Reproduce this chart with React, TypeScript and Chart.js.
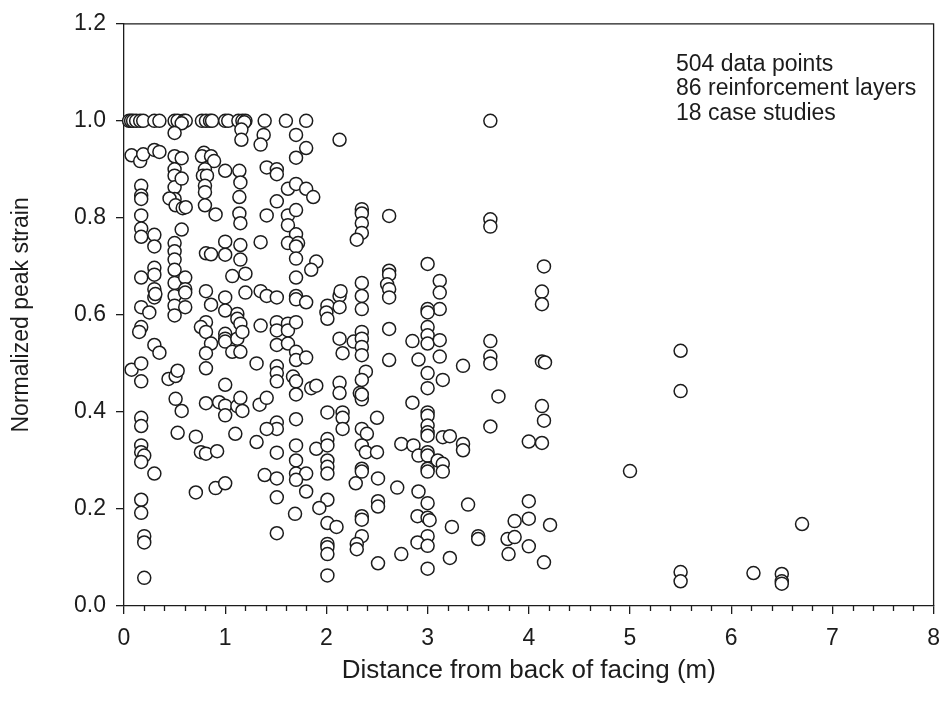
import React, { useEffect, useRef } from 'react';
import { Chart, registerables } from 'chart.js';

Chart.register(...registerables);

const FONT = '"Liberation Sans", Arial, Helvetica, sans-serif';
const INK = '#1c1c1c';

const xAxisTitle = 'Distance from back of facing (m)';
const yAxisTitle = 'Normalized peak strain';
const noteLines = ['504 data points', '86 reinforcement layers', '18 case studies'];

const xTickValues = [0, 1, 2, 3, 4, 5, 6, 7, 8];
const xTickLabels = ['0', '1', '2', '3', '4', '5', '6', '7', '8'];
const xMinorTickValues = [
  0.2, 0.4, 0.6, 0.8, 1.2, 1.4, 1.6, 1.8, 2.2, 2.4, 2.6, 2.8, 3.2, 3.4, 3.6, 3.8,
  4.2, 4.4, 4.6, 4.8, 5.2, 5.4, 5.6, 5.8, 6.2, 6.4, 6.6, 6.8, 7.2, 7.4, 7.6, 7.8,
];
const yTickValues = [0, 0.2, 0.4, 0.6, 0.8, 1.0, 1.2];
const yTickLabels = ['0.0', '0.2', '0.4', '0.6', '0.8', '1.0', '1.2'];

type Pt = [number, number];

// points capped at normalized strain = 1.0
const peakRow: Pt[] = [
  [0.05, 1.0], [0.07, 1.0], [0.09, 1.0], [0.12, 1.0], [0.16, 1.0], [0.19, 1.0], [0.30, 1.0],
  [0.35, 1.0], [0.50, 1.0], [0.53, 1.0], [0.59, 1.0], [0.61, 1.0], [0.57, 0.995], [0.77, 1.0],
  [0.81, 1.0], [0.85, 1.0], [0.87, 1.0], [1.00, 1.0], [1.03, 1.0], [1.13, 1.0], [1.17, 1.0],
  [1.20, 1.0], [1.19, 0.997], [1.39, 1.0], [1.60, 1.0], [1.80, 1.0], [3.62, 1.0],
];

// 0.72 - 1.0
const upperBand: Pt[] = [
  [0.50, 0.975], [1.16, 0.982], [1.16, 0.961], [1.38, 0.971], [1.35, 0.951], [1.70, 0.971],
  [1.80, 0.944], [1.70, 0.924], [2.13, 0.961], [0.075, 0.929], [0.16, 0.917], [0.19, 0.931],
  [0.30, 0.94], [0.35, 0.936], [0.50, 0.927], [0.57, 0.923], [0.50, 0.90], [0.50, 0.887],
  [0.50, 0.863], [0.50, 0.839], [0.57, 0.881], [0.45, 0.84], [0.51, 0.826], [0.58, 0.82],
  [0.61, 0.822], [0.79, 0.934], [0.77, 0.927], [0.86, 0.927], [0.89, 0.917], [0.80, 0.90],
  [0.78, 0.887], [0.82, 0.887], [0.80, 0.866], [0.80, 0.853], [0.80, 0.826], [0.905, 0.807],
  [1.0, 0.897], [1.14, 0.897], [1.15, 0.873], [1.14, 0.843], [1.14, 0.809], [1.15, 0.789],
  [0.17, 0.866], [0.17, 0.846], [0.17, 0.839], [0.17, 0.805], [0.17, 0.778], [0.17, 0.761],
  [0.30, 0.765], [0.30, 0.741], [0.57, 0.776], [0.50, 0.748], [1.0, 0.751], [1.15, 0.744],
  [1.35, 0.75], [1.41, 0.904], [1.51, 0.90], [1.51, 0.89], [1.62, 0.86], [1.70, 0.87],
  [1.80, 0.86], [1.87, 0.843], [1.51, 0.834], [1.41, 0.805], [1.62, 0.805], [1.70, 0.816],
  [1.62, 0.785], [1.70, 0.766], [1.62, 0.748], [1.72, 0.748], [2.35, 0.818], [2.35, 0.809],
  [2.35, 0.789], [2.35, 0.769], [2.30, 0.755], [2.62, 0.804], [3.62, 0.797], [3.62, 0.782],
];

// 0.26 - 0.73
const middleBand: Pt[] = [
  [0.50, 0.731], [0.50, 0.714], [0.50, 0.693], [0.50, 0.666], [0.50, 0.639], [0.50, 0.619],
  [0.50, 0.599], [0.605, 0.677], [0.605, 0.653], [0.605, 0.646], [0.605, 0.616], [0.30, 0.697],
  [0.30, 0.683], [0.30, 0.653], [0.30, 0.636], [0.31, 0.643], [0.17, 0.677], [0.17, 0.616],
  [0.25, 0.605], [0.17, 0.575], [0.15, 0.565], [0.30, 0.538], [0.35, 0.522], [0.075, 0.487],
  [0.17, 0.50], [0.17, 0.463], [0.44, 0.468], [0.51, 0.474], [0.53, 0.485], [0.51, 0.427],
  [0.57, 0.402], [0.17, 0.388], [0.17, 0.371], [0.53, 0.357], [0.17, 0.331], [0.17, 0.317],
  [0.20, 0.31], [0.17, 0.297], [0.30, 0.273], [0.71, 0.349], [0.76, 0.317], [0.81, 0.314],
  [0.92, 0.319], [1.10, 0.355], [0.81, 0.727], [0.86, 0.725], [1.0, 0.724], [1.15, 0.714],
  [1.07, 0.68], [1.20, 0.685], [1.70, 0.741], [1.70, 0.716], [1.90, 0.71], [1.85, 0.693],
  [1.70, 0.677], [0.81, 0.649], [0.86, 0.621], [1.0, 0.636], [1.0, 0.609], [1.2, 0.646],
  [1.35, 0.649], [1.41, 0.639], [1.51, 0.636], [1.70, 0.639], [1.70, 0.632], [1.80, 0.626],
  [2.01, 0.619], [2.0, 0.605], [2.01, 0.592], [2.13, 0.639], [2.14, 0.649], [2.13, 0.616],
  [2.35, 0.666], [2.35, 0.639], [2.35, 0.612], [2.62, 0.691], [2.62, 0.683], [2.60, 0.663],
  [2.62, 0.653], [2.62, 0.636], [3.0, 0.705], [3.12, 0.67], [3.12, 0.646], [3.12, 0.612],
  [3.0, 0.612], [3.0, 0.605], [4.15, 0.70], [4.13, 0.648], [4.13, 0.622], [0.81, 0.585],
  [0.76, 0.575], [0.81, 0.565], [0.86, 0.541], [0.81, 0.521], [0.81, 0.49], [1.0, 0.561],
  [1.0, 0.551], [1.0, 0.545], [1.07, 0.524], [1.12, 0.602], [1.12, 0.592], [1.15, 0.582],
  [1.12, 0.551], [1.15, 0.524], [1.17, 0.565], [1.35, 0.578], [1.51, 0.585], [1.51, 0.568],
  [1.62, 0.582], [1.62, 0.568], [1.70, 0.585], [1.51, 0.538], [1.62, 0.541], [1.70, 0.524],
  [1.70, 0.507], [1.80, 0.512], [1.31, 0.50], [1.51, 0.494], [1.51, 0.48], [1.51, 0.463],
  [1.67, 0.473], [1.70, 0.463], [1.70, 0.436], [1.85, 0.449], [1.90, 0.454], [1.34, 0.415],
  [1.41, 0.429], [0.81, 0.418], [0.94, 0.42], [1.0, 0.413], [1.0, 0.393], [1.12, 0.412],
  [1.15, 0.429], [1.17, 0.402], [1.0, 0.456], [1.70, 0.385], [1.51, 0.378], [1.51, 0.365],
  [1.41, 0.365], [1.31, 0.338], [1.51, 0.316], [1.70, 0.331], [1.70, 0.30], [1.70, 0.273],
  [1.80, 0.273], [1.90, 0.324], [2.01, 0.344], [2.01, 0.331], [2.01, 0.30], [2.01, 0.287],
  [2.01, 0.273], [2.01, 0.399], [2.16, 0.399], [2.16, 0.388], [2.13, 0.551], [2.16, 0.521],
  [2.13, 0.46], [2.13, 0.439], [2.27, 0.545], [2.35, 0.565], [2.35, 0.551], [2.35, 0.534],
  [2.35, 0.517], [2.39, 0.483], [2.35, 0.466], [2.33, 0.439], [2.35, 0.426], [2.35, 0.436],
  [2.50, 0.388], [2.35, 0.365], [2.40, 0.355], [2.35, 0.331], [2.39, 0.317], [2.50, 0.317],
  [2.35, 0.283], [2.35, 0.277], [2.62, 0.571], [2.62, 0.507], [2.85, 0.546], [2.91, 0.508],
  [3.0, 0.575], [3.0, 0.558], [3.0, 0.541], [3.12, 0.548], [3.12, 0.514], [3.0, 0.48],
  [3.0, 0.449], [3.15, 0.466], [3.35, 0.495], [3.62, 0.546], [3.62, 0.514], [3.62, 0.50],
  [3.70, 0.432], [4.13, 0.504], [4.16, 0.502], [4.13, 0.412], [4.15, 0.382], [2.85, 0.419],
  [3.0, 0.399], [3.0, 0.392], [3.0, 0.372], [3.0, 0.358], [3.0, 0.351], [3.15, 0.348],
  [3.22, 0.35], [2.74, 0.334], [2.86, 0.331], [2.91, 0.31], [3.0, 0.317], [3.0, 0.31],
  [3.10, 0.30], [3.15, 0.293], [3.0, 0.283], [3.15, 0.277], [3.0, 0.277], [3.35, 0.334],
  [3.35, 0.321], [3.62, 0.37], [4.0, 0.339], [4.13, 0.336], [2.16, 0.365],
];

// below 0.27
const lowerBand: Pt[] = [
  [0.71, 0.234], [0.905, 0.243], [1.0, 0.253], [0.17, 0.219], [0.17, 0.192], [0.20, 0.144],
  [0.20, 0.131], [0.20, 0.058], [1.70, 0.26], [1.39, 0.27], [1.51, 0.263], [1.51, 0.224],
  [1.80, 0.236], [1.69, 0.19], [1.51, 0.15], [2.01, 0.219], [1.93, 0.202], [2.01, 0.171],
  [2.10, 0.163], [2.01, 0.128], [2.01, 0.121], [2.01, 0.107], [2.01, 0.063], [2.51, 0.263],
  [2.29, 0.253], [2.51, 0.216], [2.51, 0.205], [2.35, 0.185], [2.35, 0.178], [2.35, 0.144],
  [2.30, 0.128], [2.30, 0.117], [2.51, 0.088], [2.70, 0.244], [2.91, 0.236], [3.0, 0.212],
  [2.90, 0.185], [3.0, 0.182], [3.02, 0.177], [3.0, 0.144], [2.90, 0.131], [3.0, 0.124],
  [2.74, 0.107], [3.0, 0.077], [3.24, 0.163], [3.22, 0.099], [3.40, 0.209], [3.50, 0.144],
  [3.50, 0.138], [3.79, 0.138], [3.86, 0.142], [3.80, 0.107], [3.86, 0.175], [4.0, 0.216],
  [4.0, 0.18], [4.0, 0.123], [4.21, 0.167], [4.15, 0.09],
];

// beyond 4.5 m
const farField: Pt[] = [
  [5.50, 0.526], [5.50, 0.443], [5.0, 0.278], [5.5, 0.07], [5.5, 0.051], [6.22, 0.068],
  [6.50, 0.066], [6.50, 0.051], [6.50, 0.046], [6.70, 0.169],
];

const allPoints: Pt[] = [...peakRow, ...upperBand, ...middleBand, ...lowerBand, ...farField];

const framePlugin = {
  id: 'frameAndNote',
  afterDraw(chart: any) {
    const { ctx, chartArea: a, scales } = chart;
    const xs = scales.x;
    ctx.save();
    ctx.strokeStyle = INK;
    ctx.lineWidth = 1.3;
    ctx.beginPath();
    ctx.moveTo(a.left, a.top);
    ctx.lineTo(a.right, a.top);
    ctx.lineTo(a.right, a.bottom);
    ctx.stroke();
    ctx.beginPath();
    for (const v of xMinorTickValues) {
      const px = Math.round(xs.getPixelForValue(v)) + 0.5;
      ctx.moveTo(px, a.bottom);
      ctx.lineTo(px, a.bottom + 5);
    }
    ctx.stroke();
    ctx.fillStyle = INK;
    ctx.font = `23px ${FONT}`;
    ctx.textAlign = 'left';
    ctx.textBaseline = 'alphabetic';
    noteLines.forEach((t, i) => {
      ctx.fillText(t, a.left + 552, a.top + 47 + i * 24.5);
    });
    ctx.restore();
  },
};

export default function App() {
  const ref = useRef<HTMLCanvasElement | null>(null);
  useEffect(() => {
    document.body.style.margin = '0';
    const canvas = ref.current;
    if (!canvas) return;
    const chart = new Chart(canvas, {
      type: 'scatter',
      data: {
        datasets: [
          {
            data: allPoints.map(([x, y]) => ({ x, y })),
            pointRadius: 6.5,
            pointHoverRadius: 6.5,
            pointBorderWidth: 1.5,
            pointBorderColor: INK,
            pointBackgroundColor: '#ffffff',
            showLine: false,
            clip: false as any,
          },
        ],
      },
      options: {
        animation: false,
        responsive: false,
        events: [],
        layout: { padding: { left: 0, right: 8, top: 16, bottom: 0 } },
        plugins: { legend: { display: false }, tooltip: { enabled: false } },
        scales: {
          x: {
            type: 'linear',
            position: 'bottom',
            min: 0,
            max: 8,
            afterBuildTicks: (s: any) => {
              s.ticks = xTickValues.map((v) => ({ value: v }));
            },
            ticks: {
              callback: (_v: any, i: number) => xTickLabels[i],
              font: { family: FONT, size: 23 },
              color: INK,
              padding: 11,
              maxRotation: 0,
              autoSkip: false,
            },
            grid: { drawOnChartArea: false, drawTicks: true, tickLength: 8, color: INK, lineWidth: 1.3 },
            border: { display: true, color: INK, width: 1.3 },
            title: {
              display: true,
              text: xAxisTitle,
              font: { family: FONT, size: 26 },
              color: INK,
              padding: { top: 0, bottom: 18 },
            },
            afterFit: (s: any) => {
              s.height = 98;
            },
          },
          y: {
            type: 'linear',
            position: 'left',
            min: 0,
            max: 1.2,
            afterBuildTicks: (s: any) => {
              s.ticks = yTickValues.map((v) => ({ value: v }));
            },
            ticks: {
              callback: (_v: any, i: number) => yTickLabels[i],
              font: { family: FONT, size: 23 },
              color: INK,
              padding: 10,
              autoSkip: false,
            },
            grid: { drawOnChartArea: false, drawTicks: true, tickLength: 8, color: INK, lineWidth: 1.3 },
            border: { display: true, color: INK, width: 1.3 },
            title: {
              display: true,
              text: yAxisTitle,
              font: { family: FONT, size: 23 },
              color: INK,
              padding: { top: 8, bottom: 0 },
            },
            afterFit: (s: any) => {
              s.width = 124;
            },
          },
        },
      },
      plugins: [framePlugin],
    });
    return () => chart.destroy();
  }, []);
  return (
    <div style={{ width: 951, height: 704 }}>
      <canvas ref={ref} width={951} height={704} style={{ display: 'block' }} />
    </div>
  );
}
